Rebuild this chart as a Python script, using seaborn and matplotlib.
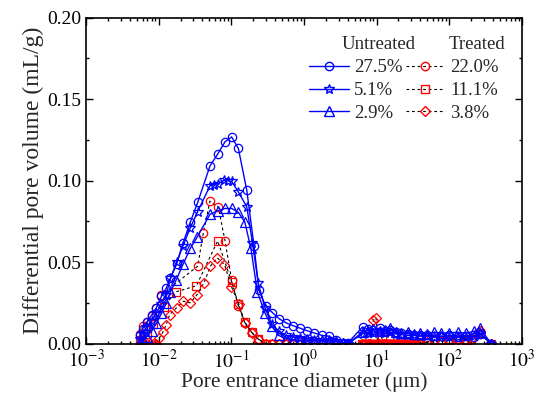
import matplotlib
matplotlib.use('Agg')
import matplotlib.pyplot as plt
from matplotlib.lines import Line2D
from matplotlib.ticker import LogLocator, NullFormatter, MultipleLocator
import numpy as np
import pandas as pd
import seaborn as sns

# untreated samples (blue, solid lines)
d_u275 = [0.0055, 0.0060, 0.0068, 0.0080, 0.0093, 0.0109, 0.0127, 0.0145, 0.0177, 0.0216,
          0.0272, 0.0344, 0.0508, 0.0649, 0.0818, 0.101, 0.125, 0.163, 0.205, 0.240,
          0.296, 0.368, 0.457, 0.568, 0.706, 0.877, 1.09, 1.36, 1.78, 2.21,
          2.75, 3.41, 4.02, 6.4, 7.5, 9.0, 11.0, 13.0, 15.5, 18.5,
          22, 27, 33, 40, 50, 62, 78, 100, 130, 170, 220, 263, 380]
v_u275 = [0.005, 0.009, 0.013, 0.0175, 0.022, 0.029, 0.034, 0.040, 0.049, 0.0615,
          0.0745, 0.0866, 0.109, 0.1163, 0.1238, 0.1268, 0.1197, 0.0942, 0.060, 0.033,
          0.023, 0.019, 0.0152, 0.0127, 0.011, 0.0095, 0.008, 0.0066, 0.005, 0.0045,
          0.0025, 0.0004, 0.0004, 0.0102, 0.009, 0.0085, 0.0095, 0.008, 0.0085, 0.007,
          0.0065, 0.006, 0.0055, 0.005, 0.005, 0.0045, 0.0045, 0.005, 0.004, 0.0045, 0.004, 0.006, 0.0]

d_u51 = [0.0055, 0.0060, 0.0068, 0.0080, 0.0093, 0.0109, 0.0127, 0.0145, 0.0177, 0.0216,
         0.0272, 0.0344, 0.0508, 0.0575, 0.0649, 0.0800, 0.0900, 0.101, 0.125, 0.163,
         0.195, 0.235, 0.290, 0.360, 0.450, 0.560, 0.700, 0.870, 1.09, 1.36,
         1.78, 2.20, 2.75, 3.40, 4.02, 6.4, 7.5, 9.0, 11.0, 13.0,
         15.5, 18.5, 22, 27, 33, 40, 50, 62, 78, 100, 130, 170, 220, 263, 380]
v_u51 = [0.003, 0.006, 0.010, 0.014, 0.019, 0.024, 0.030, 0.040, 0.050, 0.060,
         0.071, 0.081, 0.0968, 0.0975, 0.098, 0.1003, 0.1000, 0.0995, 0.093, 0.084,
         0.062, 0.037, 0.022, 0.012, 0.0075, 0.005, 0.004, 0.0035, 0.003, 0.0025,
         0.002, 0.002, 0.0015, 0.0005, 0.0, 0.006, 0.007, 0.0065, 0.007, 0.0065,
         0.007, 0.006, 0.0055, 0.005, 0.005, 0.0045, 0.0045, 0.004, 0.0045, 0.004, 0.004, 0.004, 0.0045, 0.006, 0.0]

d_u29 = [0.0055, 0.0060, 0.0068, 0.0080, 0.0093, 0.0109, 0.0127, 0.0145, 0.0174, 0.0216,
         0.0272, 0.0340, 0.0508, 0.0649, 0.0818, 0.101, 0.125, 0.153, 0.186, 0.228,
         0.290, 0.360, 0.450, 0.560, 0.700, 0.870, 1.09, 1.36, 1.78, 2.20,
         2.75, 3.40, 4.02, 6.4, 7.5, 9.0, 11.0, 13.0, 15.5, 18.5,
         22, 27, 33, 40, 50, 62, 78, 100, 130, 170, 220, 263, 380]
v_u29 = [0.001, 0.002, 0.0042, 0.0077, 0.0124, 0.0185, 0.0247, 0.0318, 0.039, 0.0486,
         0.0584, 0.0655, 0.0793, 0.0815, 0.0829, 0.0829, 0.0805, 0.0747, 0.0584, 0.0318,
         0.0188, 0.0106, 0.005, 0.003, 0.0025, 0.002, 0.002, 0.0015, 0.0015, 0.001,
         0.001, 0.0005, 0.0, 0.007, 0.008, 0.009, 0.008, 0.0085, 0.0095, 0.007,
         0.0065, 0.007, 0.006, 0.0065, 0.006, 0.007, 0.0065, 0.0065, 0.007, 0.0065, 0.0075, 0.0095, 0.0]

# treated samples (red markers, black dashed lines)
d_zero_mid = [0.296, 0.368, 0.457, 0.568, 0.706, 0.877, 1.09, 1.36, 1.78, 2.21, 2.75, 3.41]
d_right = [6.3, 6.9, 7.5, 8.2, 9.0, 9.8, 10.7, 11.7, 12.8, 14.0, 15.3, 16.7, 18.3, 20.0,
           21.8, 23.8, 26.0, 28.5, 31.0, 34.0, 40.0, 50.0, 62.0, 78.0, 100.0, 130.0,
           170.0, 200.0, 263.0, 380.0]

d_t220 = [0.0055, 0.0060, 0.0068, 0.0080, 0.0093, 0.0109, 0.0344, 0.0410, 0.0508, 0.0660,
          0.0818, 0.101, 0.125, 0.153, 0.190, 0.230] + d_zero_mid + d_right
v_t220 = [0.006, 0.011, 0.0135, 0.017, 0.022, 0.030, 0.0475, 0.0676, 0.0874, 0.0839,
          0.0631, 0.039, 0.023, 0.0125, 0.0069, 0.003] + [0.0] * 12 + \
         [0.0] * 21 + [0.001, 0.002, 0.0015, 0.002, 0.0026, 0.0025, 0.003, 0.006, 0.0]

d_t111 = [0.0055, 0.0068, 0.0083, 0.0117, 0.0174, 0.0330, 0.0649, 0.101, 0.125, 0.153,
          0.190, 0.230] + d_zero_mid + d_right
v_t111 = [0.002, 0.006, 0.0118, 0.0226, 0.0318, 0.0355, 0.063, 0.038, 0.024, 0.013,
          0.007, 0.003] + [0.0] * 12 + \
         [0.0] * 7 + [0.004] + [0.0] * 13 + [0.001, 0.0015, 0.002, 0.002, 0.0026, 0.0025, 0.003, 0.0065, 0.0]

d_t38 = [0.0055, 0.0061, 0.0068, 0.0075, 0.0083, 0.0092, 0.0102, 0.0114, 0.0127, 0.0142,
         0.0176, 0.0219, 0.0272, 0.0337, 0.0420, 0.0515, 0.0640, 0.0805, 0.100, 0.127,
         0.156, 0.194, 0.238] + d_zero_mid + d_right
v_t38 = [0.0, 0.0, 0.0, 0.0, 0.0, 0.0, 0.0035, 0.007, 0.0117, 0.0178,
         0.022, 0.026, 0.025, 0.030, 0.0373, 0.0475, 0.0526, 0.0485, 0.035, 0.024,
         0.0127, 0.0065, 0.0025] + [0.0] * 12 + \
         [0.0, 0.0, 0.0, 0.0, 0.0143, 0.016] + [0.0] * 15 + [0.001, 0.002, 0.0015, 0.002, 0.0026, 0.0025, 0.003, 0.0078, 0.0]

untreated = [('27.5%', d_u275, v_u275, 'o'), ('5.1%', d_u51, v_u51, '*'), ('2.9%', d_u29, v_u29, '^')]
treated = [('22.0%', d_t220, v_t220, 'o'), ('11.1%', d_t111, v_t111, 's'), ('3.8%', d_t38, v_t38, 'D')]

sns.set_style('ticks')
plt.rcParams['font.family'] = ['Liberation Serif', 'DejaVu Serif']
plt.rcParams['mathtext.fontset'] = 'stix'

fig = plt.figure(figsize=(5.38, 4.0), dpi=100)
ax = fig.add_axes([0.160, 0.141, 0.810, 0.815])

msize = {'o': 6, '*': 7, '^': 6.5, 's': 5.5, 'D': 5}

for lab, d, v, m in treated:
    sns.lineplot(x=d, y=v, ax=ax, sort=False, color='black', linewidth=0.8,
                 dashes=False, linestyle=(0, (2.5, 2.5)), marker=m, markersize=msize[m],
                 markerfacecolor='none', markeredgecolor='red', markeredgewidth=0.9)
for lab, d, v, m in untreated:
    sns.lineplot(x=d, y=v, ax=ax, sort=False, color='blue', linewidth=1.0,
                 marker=m, markersize=msize[m], markerfacecolor='none',
                 markeredgecolor='blue', markeredgewidth=0.9)

ax.set_xscale('log')
ax.set_xlim(1e-3, 1e3)
ax.set_ylim(0, 0.2)
ax.xaxis.set_minor_locator(LogLocator(base=10, subs=np.arange(2, 10), numticks=20))
ax.xaxis.set_minor_formatter(NullFormatter())
ax.set_xticks([1e-3, 1e-2, 1e-1, 1e0, 1e1, 1e2, 1e3])
ax.set_xticklabels([r'$10^{-3}$', r'$10^{-2}$', r'$10^{-1}$', r'$10^{0}$',
                    r'$10^{1}$', r'$10^{2}$', r'$10^{3}$'])
ax.yaxis.set_major_locator(MultipleLocator(0.05))
ax.yaxis.set_minor_locator(MultipleLocator(0.025))
ax.yaxis.set_major_formatter(matplotlib.ticker.FormatStrFormatter('%.2f'))

ax.tick_params(which='both', direction='in', top=True, right=True, labelsize=14,
               width=1.0, colors='black')
ax.tick_params(which='major', length=5)
ax.tick_params(which='minor', length=2.5)
ax.tick_params(axis='x', which='major', pad=4)
for s in ax.spines.values():
    s.set_linewidth(1.2)
    s.set_color('black')

ax.set_xlabel('Pore entrance diameter (μm)', fontsize=15.5, labelpad=0.5)
ax.set_ylabel('Differential pore volume (mL/g)', fontsize=17, labelpad=2)

handles = []
labels = []
for lab, d, v, m in untreated:
    handles.append(Line2D([], [], color='blue', linewidth=1.0, marker=m,
                          markersize=msize[m], markerfacecolor='none', markeredgecolor='blue'))
    labels.append(lab)
for lab, d, v, m in treated:
    handles.append(Line2D([], [], color='black', linewidth=0.8, linestyle=(0, (2.5, 2.5)), marker=m,
                          markersize=msize[m], markerfacecolor='none', markeredgecolor='red'))
    labels.append(lab)
leg = ax.legend(handles, labels, ncol=2, frameon=False, fontsize=13.5,
                loc='upper left', bbox_to_anchor=(0.512, 0.872),
                handlelength=2.1, handletextpad=0.3, columnspacing=0.15,
                labelspacing=0.3, borderpad=0, borderaxespad=0)
ax.text(0.672, 0.918, 'Untreated', transform=ax.transAxes, fontsize=13.5, ha='center', va='center')
ax.text(0.898, 0.918, 'Treated', transform=ax.transAxes, fontsize=13.5, ha='center', va='center')

fig.savefig('out.png', dpi=100)
